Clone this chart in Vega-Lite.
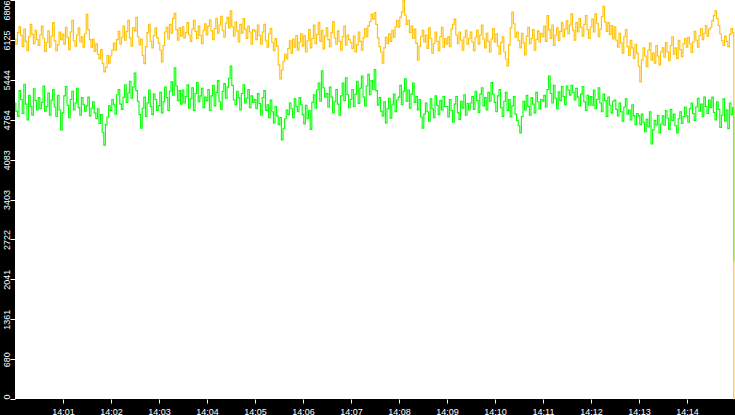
{
"$schema": "https://vega.github.io/schema/vega-lite/v6.json",
"width": 720, "height": 399,
"autosize": {"type": "none"},
"padding": {"left": 15, "top": 0, "right": 0, "bottom": 16},
"background": "black",
"config": {"view": {"fill": "white", "stroke": null},
  "axis": {"domain": false, "grid": false, "title": null, "tickColor": "white", "labelColor": "white", "labelFont": "Liberation Sans", "labelFontSize": 9}},
"data": {"values": [
{"t":0,"o":6140,"g":5050},{"t":2,"o":6050,"g":4910},{"t":4,"o":6250,"g":4820},{"t":6,"o":6350,"g":5260},{"t":8,"o":6200,"g":5110},{"t":10,"o":6010,"g":4870},{"t":12,"o":6310,"g":5370},{"t":14,"o":6100,"g":5030},{"t":16,"o":5940,"g":4760},{"t":18,"o":6180,"g":5180},{"t":20,"o":6390,"g":4990},{"t":22,"o":6220,"g":4840},{"t":24,"o":6060,"g":5290},{"t":26,"o":6290,"g":5090},{"t":28,"o":6130,"g":4930},
{"t":30,"o":6030,"g":5140},{"t":32,"o":6210,"g":4950},{"t":34,"o":6360,"g":5060},{"t":36,"o":6150,"g":5340},{"t":38,"o":5930,"g":4910},{"t":40,"o":6080,"g":4990},{"t":42,"o":6280,"g":5220},{"t":44,"o":6000,"g":4840},{"t":46,"o":6190,"g":5100},{"t":48,"o":6420,"g":5280},{"t":50,"o":6110,"g":4980},{"t":52,"o":5940,"g":4820},{"t":54,"o":6040,"g":5180},{"t":56,"o":6260,"g":4930},{"t":58,"o":6130,"g":4590},
{"t":60,"o":6220,"g":4880},{"t":62,"o":6050,"g":5170},{"t":64,"o":6340,"g":5330},{"t":66,"o":6170,"g":5010},{"t":68,"o":5960,"g":4800},{"t":70,"o":6260,"g":5110},{"t":72,"o":6460,"g":5250},{"t":74,"o":6110,"g":4930},{"t":76,"o":6020,"g":5050},{"t":78,"o":6210,"g":5300},{"t":80,"o":6330,"g":4970},{"t":82,"o":6090,"g":4840},{"t":84,"o":6180,"g":5140},{"t":86,"o":6000,"g":5020},{"t":88,"o":6230,"g":4910},
{"t":90,"o":6560,"g":5000},{"t":92,"o":6300,"g":5150},{"t":94,"o":6130,"g":4830},{"t":96,"o":6000,"g":4960},{"t":98,"o":6140,"g":5070},{"t":100,"o":5930,"g":4880},{"t":102,"o":6060,"g":4780},{"t":104,"o":5880,"g":4950},{"t":106,"o":5800,"g":4700},{"t":108,"o":5960,"g":4850},{"t":110,"o":5720,"g":4550},{"t":112,"o":5580,"g":4330},{"t":114,"o":5660,"g":4680},{"t":116,"o":5860,"g":4810},{"t":118,"o":5730,"g":5000},
{"t":120,"o":5850,"g":4920},{"t":122,"o":5950,"g":5110},{"t":124,"o":6070,"g":5020},{"t":126,"o":5950,"g":4860},{"t":128,"o":6130,"g":5190},{"t":130,"o":6270,"g":5280},{"t":132,"o":6050,"g":5030},{"t":134,"o":6170,"g":4940},{"t":136,"o":6360,"g":5150},{"t":138,"o":6120,"g":5360},{"t":140,"o":6270,"g":5060},{"t":142,"o":6460,"g":5220},{"t":144,"o":6160,"g":5420},{"t":146,"o":6020,"g":5130},{"t":148,"o":6330,"g":5320},
{"t":150,"o":6280,"g":5560},{"t":152,"o":6510,"g":5260},{"t":154,"o":6180,"g":5080},{"t":156,"o":6040,"g":4850},{"t":158,"o":6140,"g":4620},{"t":160,"o":5860,"g":4960},{"t":162,"o":5720,"g":5150},{"t":164,"o":6010,"g":4820},{"t":166,"o":6250,"g":5050},{"t":168,"o":6390,"g":5270},{"t":170,"o":6100,"g":4990},{"t":172,"o":5990,"g":4850},{"t":174,"o":6200,"g":5200},{"t":176,"o":6330,"g":5110},{"t":178,"o":6160,"g":4920},
{"t":180,"o":6070,"g":5000},{"t":182,"o":5950,"g":5230},{"t":184,"o":5750,"g":4880},{"t":186,"o":6030,"g":5070},{"t":188,"o":6260,"g":5320},{"t":190,"o":6340,"g":5140},{"t":192,"o":6140,"g":4920},{"t":194,"o":6390,"g":5250},{"t":196,"o":6240,"g":5410},{"t":198,"o":6490,"g":5180},{"t":200,"o":6580,"g":5650},{"t":202,"o":6300,"g":5340},{"t":204,"o":6120,"g":5090},{"t":206,"o":6330,"g":5260},{"t":208,"o":6190,"g":5030},
{"t":210,"o":6350,"g":5270},{"t":212,"o":6160,"g":5050},{"t":214,"o":6250,"g":5160},{"t":216,"o":6420,"g":5360},{"t":218,"o":6210,"g":4960},{"t":220,"o":6100,"g":5120},{"t":222,"o":6310,"g":5310},{"t":224,"o":6460,"g":4920},{"t":226,"o":6270,"g":5210},{"t":228,"o":6150,"g":5400},{"t":230,"o":6360,"g":5070},{"t":232,"o":6200,"g":5170},{"t":234,"o":6060,"g":5300},{"t":236,"o":6290,"g":4970},{"t":238,"o":6400,"g":5150},
{"t":240,"o":6210,"g":5090},{"t":242,"o":6360,"g":5280},{"t":244,"o":6470,"g":4920},{"t":246,"o":6280,"g":5170},{"t":248,"o":6130,"g":5350},{"t":250,"o":6320,"g":5000},{"t":252,"o":6490,"g":5230},{"t":254,"o":6240,"g":5430},{"t":256,"o":6380,"g":5070},{"t":258,"o":6530,"g":4940},{"t":260,"o":6290,"g":5250},{"t":262,"o":6170,"g":5380},{"t":264,"o":6410,"g":5130},{"t":266,"o":6510,"g":5320},{"t":268,"o":6330,"g":5470},
{"t":270,"o":6620,"g":5680},{"t":272,"o":6350,"g":5350},{"t":274,"o":6190,"g":5100},{"t":276,"o":6430,"g":5020},{"t":278,"o":6280,"g":5250},{"t":280,"o":6090,"g":5140},{"t":282,"o":6390,"g":4930},{"t":284,"o":6240,"g":5210},{"t":286,"o":6490,"g":5360},{"t":288,"o":6310,"g":5050},{"t":290,"o":6150,"g":5130},{"t":292,"o":6360,"g":5280},{"t":294,"o":6260,"g":4970},{"t":296,"o":6050,"g":5170},{"t":298,"o":6300,"g":5060},
{"t":300,"o":6280,"g":5110},{"t":302,"o":6130,"g":4950},{"t":304,"o":6380,"g":5210},{"t":306,"o":6200,"g":5040},{"t":308,"o":6050,"g":4840},{"t":310,"o":6260,"g":5140},{"t":312,"o":6390,"g":5260},{"t":314,"o":6110,"g":4920},{"t":316,"o":6000,"g":5020},{"t":318,"o":6230,"g":4800},{"t":320,"o":6320,"g":5100},{"t":322,"o":6080,"g":4900},{"t":324,"o":5940,"g":4710},{"t":326,"o":6150,"g":4990},{"t":328,"o":6020,"g":4830},
{"t":330,"o":5700,"g":4680},{"t":332,"o":5460,"g":4800},{"t":334,"o":5610,"g":4420},{"t":336,"o":5760,"g":4610},{"t":338,"o":5880,"g":4780},{"t":340,"o":5800,"g":4930},{"t":342,"o":5980,"g":4850},{"t":344,"o":6110,"g":5050},{"t":346,"o":5900,"g":4950},{"t":348,"o":6140,"g":4800},{"t":350,"o":6000,"g":5120},{"t":352,"o":6200,"g":4990},{"t":354,"o":5950,"g":4900},{"t":356,"o":6090,"g":5140},{"t":358,"o":6230,"g":5020},
{"t":360,"o":6020,"g":4850},{"t":362,"o":6200,"g":4690},{"t":364,"o":5920,"g":5010},{"t":366,"o":6110,"g":4780},{"t":368,"o":6300,"g":4920},{"t":370,"o":5990,"g":4600},{"t":372,"o":6150,"g":5060},{"t":374,"o":6380,"g":5190},{"t":376,"o":6060,"g":4960},{"t":378,"o":6220,"g":5270},{"t":380,"o":6420,"g":5390},{"t":382,"o":6100,"g":5080},{"t":384,"o":6290,"g":5600},{"t":386,"o":5970,"g":5310},{"t":388,"o":6190,"g":5150},
{"t":390,"o":6330,"g":5210},{"t":392,"o":6130,"g":4980},{"t":394,"o":6010,"g":5320},{"t":396,"o":6250,"g":5150},{"t":398,"o":6440,"g":4880},{"t":400,"o":6160,"g":5070},{"t":402,"o":6050,"g":5280},{"t":404,"o":6280,"g":5030},{"t":406,"o":6100,"g":4840},{"t":408,"o":5950,"g":5170},{"t":410,"o":6180,"g":5390},{"t":412,"o":6360,"g":5090},{"t":414,"o":6040,"g":5480},{"t":416,"o":6210,"g":5190},{"t":418,"o":6130,"g":4970},
{"t":420,"o":6080,"g":5110},{"t":422,"o":5980,"g":5280},{"t":424,"o":6190,"g":4990},{"t":426,"o":5920,"g":5200},{"t":428,"o":6040,"g":5420},{"t":430,"o":6260,"g":5040},{"t":432,"o":6100,"g":5300},{"t":434,"o":5950,"g":5510},{"t":436,"o":6160,"g":5150},{"t":438,"o":6320,"g":5000},{"t":440,"o":6180,"g":5340},{"t":442,"o":6360,"g":5540},{"t":444,"o":6440,"g":5190},{"t":446,"o":6560,"g":5430},{"t":448,"o":6480,"g":5280},
{"t":450,"o":6590,"g":5620},{"t":452,"o":6390,"g":5260},{"t":454,"o":6160,"g":5010},{"t":456,"o":6010,"g":5140},{"t":458,"o":5920,"g":4910},{"t":460,"o":5730,"g":4830},{"t":462,"o":5990,"g":5070},{"t":464,"o":6170,"g":4710},{"t":466,"o":6060,"g":4950},{"t":468,"o":6230,"g":5130},{"t":470,"o":6100,"g":4790},{"t":472,"o":6290,"g":5020},{"t":474,"o":6170,"g":5200},{"t":476,"o":6350,"g":4900},{"t":478,"o":6460,"g":5100},
{"t":480,"o":6340,"g":5150},{"t":482,"o":6510,"g":5350},{"t":484,"o":6600,"g":5020},{"t":486,"o":6800,"g":5250},{"t":488,"o":6550,"g":5460},{"t":490,"o":6390,"g":5080},{"t":492,"o":6460,"g":5270},{"t":494,"o":6250,"g":4960},{"t":496,"o":6360,"g":5200},{"t":498,"o":6150,"g":5390},{"t":500,"o":6310,"g":5060},{"t":502,"o":6070,"g":5160},{"t":504,"o":5780,"g":4930},{"t":506,"o":6020,"g":5110},{"t":508,"o":6180,"g":4810},
{"t":510,"o":6290,"g":4620},{"t":512,"o":6090,"g":4860},{"t":514,"o":6210,"g":5050},{"t":516,"o":5980,"g":4900},{"t":518,"o":6330,"g":4740},{"t":520,"o":6150,"g":5120},{"t":522,"o":5900,"g":4950},{"t":524,"o":6060,"g":4800},{"t":526,"o":6260,"g":5170},{"t":528,"o":6100,"g":5010},{"t":530,"o":5940,"g":4850},{"t":532,"o":6180,"g":5090},{"t":534,"o":6340,"g":4930},{"t":536,"o":6000,"g":5160},{"t":538,"o":6150,"g":4990},
{"t":540,"o":6050,"g":4990},{"t":542,"o":6180,"g":4810},{"t":544,"o":6010,"g":5110},{"t":546,"o":6310,"g":4920},{"t":548,"o":6390,"g":4720},{"t":550,"o":6480,"g":5030},{"t":552,"o":6210,"g":5160},{"t":554,"o":6060,"g":4880},{"t":556,"o":6260,"g":4770},{"t":558,"o":6120,"g":5080},{"t":560,"o":5950,"g":4960},{"t":562,"o":6170,"g":5190},{"t":564,"o":6290,"g":4840},{"t":566,"o":6050,"g":5040},{"t":568,"o":6150,"g":4930},
{"t":570,"o":6260,"g":5050},{"t":572,"o":6090,"g":5160},{"t":574,"o":5940,"g":4940},{"t":576,"o":6170,"g":5250},{"t":578,"o":6290,"g":5090},{"t":580,"o":6050,"g":4890},{"t":582,"o":6210,"g":5200},{"t":584,"o":6380,"g":5310},{"t":586,"o":6140,"g":5000},{"t":588,"o":5990,"g":5140},{"t":590,"o":6240,"g":4930},{"t":592,"o":6100,"g":5230},{"t":594,"o":5920,"g":5080},{"t":596,"o":6140,"g":5400},{"t":598,"o":6320,"g":5200},
{"t":600,"o":6090,"g":5060},{"t":602,"o":6230,"g":4900},{"t":604,"o":6020,"g":5170},{"t":606,"o":5880,"g":5280},{"t":608,"o":6080,"g":4970},{"t":610,"o":6180,"g":4820},{"t":612,"o":5920,"g":5080},{"t":614,"o":5800,"g":5230},{"t":616,"o":5680,"g":4920},{"t":618,"o":6040,"g":5110},{"t":620,"o":6330,"g":4810},{"t":622,"o":6600,"g":5000},{"t":624,"o":6400,"g":5160},{"t":626,"o":6170,"g":4860},{"t":628,"o":6260,"g":4750},
{"t":630,"o":6110,"g":4660},{"t":632,"o":5990,"g":4540},{"t":634,"o":6240,"g":4820},{"t":636,"o":6070,"g":5080},{"t":638,"o":5870,"g":4930},{"t":640,"o":6190,"g":5180},{"t":642,"o":6340,"g":4990},{"t":644,"o":6060,"g":4840},{"t":646,"o":6150,"g":5140},{"t":648,"o":6300,"g":5030},{"t":650,"o":5950,"g":4880},{"t":652,"o":6130,"g":5230},{"t":654,"o":6280,"g":5070},{"t":656,"o":6090,"g":4950},{"t":658,"o":6240,"g":5110},
{"t":660,"o":6180,"g":5080},{"t":662,"o":6360,"g":5180},{"t":664,"o":6100,"g":4980},{"t":666,"o":6540,"g":5280},{"t":668,"o":6300,"g":5510},{"t":670,"o":6150,"g":5210},{"t":672,"o":6380,"g":5050},{"t":674,"o":6030,"g":5350},{"t":676,"o":6210,"g":5130},{"t":678,"o":6330,"g":4950},{"t":680,"o":6110,"g":5240},{"t":682,"o":6270,"g":5090},{"t":684,"o":6420,"g":5330},{"t":686,"o":6180,"g":5160},{"t":688,"o":6310,"g":5020},
{"t":690,"o":6450,"g":5340},{"t":692,"o":6230,"g":5270},{"t":694,"o":6380,"g":5180},{"t":696,"o":6570,"g":5350},{"t":698,"o":6290,"g":5230},{"t":700,"o":6120,"g":5100},{"t":702,"o":6420,"g":5300},{"t":704,"o":6260,"g":5150},{"t":706,"o":6490,"g":5000},{"t":708,"o":6340,"g":5200},{"t":710,"o":6190,"g":5330},{"t":712,"o":6390,"g":5070},{"t":714,"o":6540,"g":4920},{"t":716,"o":6300,"g":5180},{"t":718,"o":6150,"g":5010},
{"t":720,"o":6340,"g":5160},{"t":722,"o":6480,"g":5010},{"t":724,"o":6260,"g":5270},{"t":726,"o":6570,"g":4950},{"t":728,"o":6410,"g":5110},{"t":730,"o":6180,"g":5310},{"t":732,"o":6310,"g":5050},{"t":734,"o":6520,"g":4900},{"t":736,"o":6700,"g":5200},{"t":738,"o":6430,"g":5090},{"t":740,"o":6270,"g":4820},{"t":742,"o":6420,"g":5150},{"t":744,"o":6220,"g":5010},{"t":746,"o":6370,"g":4880},{"t":748,"o":6140,"g":5080},
{"t":750,"o":6350,"g":5100},{"t":752,"o":6120,"g":4940},{"t":754,"o":6000,"g":4830},{"t":756,"o":6240,"g":5050},{"t":758,"o":6070,"g":4900},{"t":760,"o":5900,"g":4740},{"t":762,"o":6180,"g":4980},{"t":764,"o":6300,"g":5120},{"t":766,"o":6010,"g":4860},{"t":768,"o":5860,"g":4930},{"t":770,"o":6120,"g":4760},{"t":772,"o":5990,"g":5020},{"t":774,"o":5810,"g":4830},{"t":776,"o":6050,"g":4680},{"t":778,"o":5900,"g":4870},
{"t":780,"o":5680,"g":4830},{"t":782,"o":5410,"g":4680},{"t":784,"o":5780,"g":4860},{"t":786,"o":5990,"g":4720},{"t":788,"o":5850,"g":4560},{"t":790,"o":5670,"g":4770},{"t":792,"o":5950,"g":4640},{"t":794,"o":6070,"g":4900},{"t":796,"o":5780,"g":4350},{"t":798,"o":5900,"g":4590},{"t":800,"o":5730,"g":4750},{"t":802,"o":6030,"g":4670},{"t":804,"o":5850,"g":4840},{"t":806,"o":5700,"g":4540},{"t":808,"o":5920,"g":4690},
{"t":810,"o":5990,"g":4830},{"t":812,"o":5830,"g":4670},{"t":814,"o":6080,"g":4920},{"t":816,"o":5920,"g":4790},{"t":818,"o":5770,"g":4600},{"t":820,"o":6030,"g":4940},{"t":822,"o":6180,"g":4750},{"t":824,"o":5880,"g":4860},{"t":826,"o":5990,"g":4660},{"t":828,"o":5810,"g":4540},{"t":830,"o":6120,"g":4780},{"t":832,"o":5960,"g":4900},{"t":834,"o":5840,"g":4700},{"t":836,"o":6060,"g":4820},{"t":838,"o":6150,"g":4980},
{"t":840,"o":6000,"g":4830},{"t":842,"o":6170,"g":4720},{"t":844,"o":6060,"g":4950},{"t":846,"o":5910,"g":5050},{"t":848,"o":6090,"g":4870},{"t":850,"o":6270,"g":4750},{"t":852,"o":6120,"g":4980},{"t":854,"o":6000,"g":5130},{"t":856,"o":6200,"g":4910},{"t":858,"o":6320,"g":5030},{"t":860,"o":6130,"g":4820},{"t":862,"o":6240,"g":5150},{"t":864,"o":6370,"g":4990},{"t":866,"o":6190,"g":4870},{"t":868,"o":6310,"g":5100},
{"t":870,"o":6340,"g":4970},{"t":872,"o":6450,"g":5150},{"t":874,"o":6540,"g":4890},{"t":876,"o":6620,"g":4760},{"t":878,"o":6490,"g":5070},{"t":880,"o":6370,"g":4940},{"t":882,"o":6230,"g":4630},{"t":884,"o":6110,"g":4840},{"t":886,"o":6030,"g":5120},{"t":888,"o":6190,"g":4740},{"t":890,"o":6100,"g":4930},{"t":892,"o":6010,"g":4610},{"t":894,"o":6220,"g":5050},{"t":896,"o":6320,"g":4850},{"t":898,"o":6250,"g":4970},
{"t":899,"o":0,"g":2360}
]},
"encoding": {
  "x": {"field": "t", "type": "quantitative", "scale": {"domain": [0, 900], "nice": false, "zero": false},
    "axis": {"values": [60,120,180,240,300,360,420,480,540,600,660,720,780,840], "tickSize": 4, "labelPadding": 4, "labelDx": -3,
      "labelExpr": "'14:' + (datum.value < 600 ? '0' : '') + (datum.value / 60)"}}
},
"layer": [
  {"mark": {"type": "line", "color": "#00ff00", "strokeWidth": 1.1, "interpolate": "step"},
   "encoding": {"y": {"field": "g", "type": "quantitative", "scale": {"domain": [0, 6806], "nice": false, "zero": false},
     "axis": {"values": [0,680,1361,2041,2722,3403,4083,4764,5444,6125,6806], "format": "d", "tickSize": 5, "labelAngle": -90, "labelBaseline": "alphabetic", "labelPadding": 1, "labelFlush": false,
       "labelAlign": {"condition": [{"test": "datum.value == 0", "value": "left"}, {"test": "datum.value == 6806", "value": "right"}], "value": "center"}}}}},
  {"mark": {"type": "line", "color": "#ffc000", "strokeWidth": 1.1, "interpolate": "step"},
   "encoding": {"y": {"field": "o", "type": "quantitative", "scale": {"domain": [0, 6806], "nice": false, "zero": false},
     "axis": {"values": [0,680,1361,2041,2722,3403,4083,4764,5444,6125,6806], "format": "d", "tickSize": 5, "labelAngle": -90, "labelBaseline": "alphabetic", "labelPadding": 1, "labelFlush": false,
       "labelAlign": {"condition": [{"test": "datum.value == 0", "value": "left"}, {"test": "datum.value == 6806", "value": "right"}], "value": "center"}}}}}
]
}
